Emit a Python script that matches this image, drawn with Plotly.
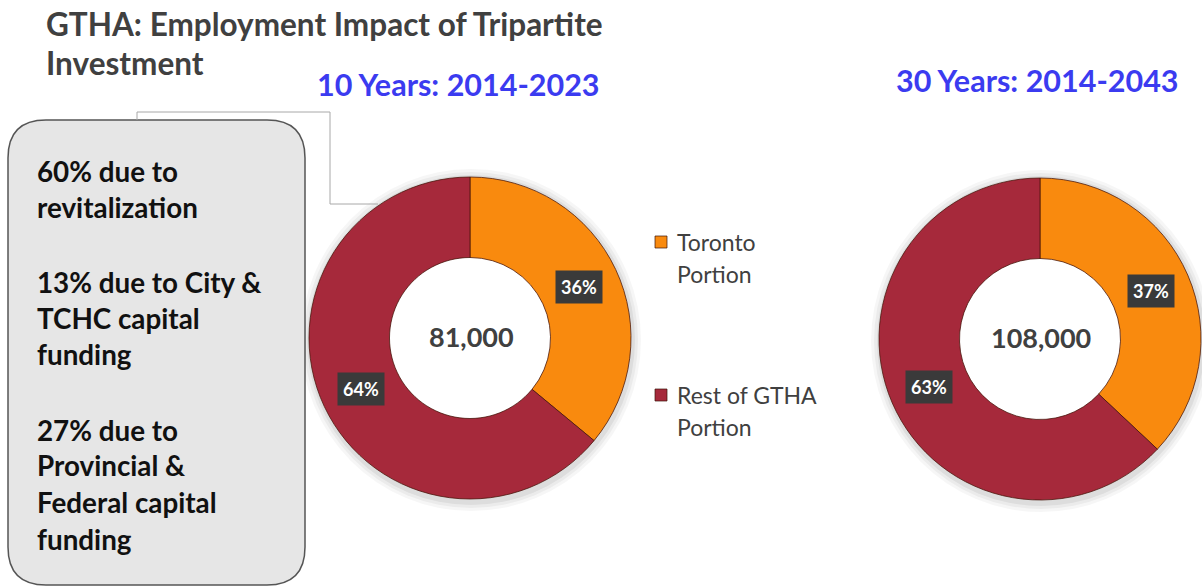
import math
import plotly.graph_objects as go

# ---------------- data ----------------
categories = ["Toronto Portion", "Rest of GTHA Portion"]
legend_lines = [["Toronto", "Portion"], ["Rest of GTHA", "Portion"]]
share_10yr = [36, 64]
share_30yr = [37, 63]
total_10yr = 81000
total_30yr = 108000
period_titles = ["10 Years: 2014-2023", "30 Years: 2014-2043"]
title_lines = ["GTHA: Employment Impact of Tripartite", "Investment"]
box_lines = ["60% due to", "revitalization", "",
             "13% due to City &", "TCHC capital", "funding", "",
             "27% due to", "Provincial &", "Federal capital", "funding"]

# ---------------- style ----------------
W, H = 1202, 586
ORANGE = "#F98A0E"
RED = "#A6293B"
GRAY_TXT = "#404040"
BLUE = "#3B3BF0"
FONT = "Lato"


def px(x):
    return x / W


def py(y):
    return 1 - y / H


fig = go.Figure()
shapes = []
annotations = []

donuts = [
    dict(values=share_10yr, total=total_10yr, cx=470, cy=338, r=161),
    dict(values=share_30yr, total=total_30yr, cx=1040, cy=339, r=161),
]

for d in donuts:
    cx, cy, r = d["cx"], d["cy"], d["r"]
    # soft shadow
    for grow, op in [(9, 0.035), (6, 0.045), (3, 0.06)]:
        shapes.append(dict(type="circle", xref="paper", yref="paper", layer="below",
                           x0=px(cx - r - grow + 1), x1=px(cx + r + grow + 1),
                           y0=py(cy + r + grow + 3), y1=py(cy - r - grow + 1),
                           fillcolor=f"rgba(0,0,0,{op})", line=dict(width=0)))
    # keep the hole white
    hr = 0.5 * r
    shapes.append(dict(type="circle", xref="paper", yref="paper", layer="below",
                       x0=px(cx - hr), x1=px(cx + hr), y0=py(cy + hr), y1=py(cy - hr),
                       fillcolor="white", line=dict(width=0)))
    fig.add_trace(go.Pie(
        labels=categories, values=d["values"], hole=0.5, sort=False,
        direction="clockwise", rotation=0,
        marker=dict(colors=[ORANGE, RED], line=dict(color="rgba(70,20,10,0.75)", width=1)),
        textinfo="none", hoverinfo="label+percent", showlegend=False,
        domain=dict(x=[px(cx - r), px(cx + r)], y=[py(cy + r), py(cy - r)]),
    ))
    # center total
    annotations.append(dict(x=px(cx + 1), y=py(cy - 2), xref="paper", yref="paper",
                            xanchor="center", yanchor="middle",
                            text=f"{d['total']:,}", showarrow=False,
                            font=dict(family=FONT, size=27, color=GRAY_TXT, weight="bold")))
    # percent labels
    tot = sum(d["values"])
    cum = 0
    rm = 0.75 * r
    for v in d["values"]:
        mid = (cum + v / 2) / tot
        th = 2 * math.pi * mid
        x = cx + rm * math.sin(th)
        y = cy - rm * math.cos(th)
        cum += v
        annotations.append(dict(x=px(x), y=py(y), xref="paper", yref="paper",
                                xanchor="center", yanchor="middle",
                                text=f"{round(100 * v / tot)}%", showarrow=False,
                                bgcolor="#3A3A3A", borderpad=5,
                                font=dict(family=FONT, size=18, color="white", weight="bold")))

# title
for line, yc in zip(title_lines, [24, 63]):
    annotations.append(dict(x=px(44), y=py(yc), xref="paper", yref="paper",
                            xanchor="left", yanchor="middle", text=line, showarrow=False,
                            font=dict(family=FONT, size=31.5, color=GRAY_TXT, weight="bold")))

# period titles
for t, (xl, yc) in zip(period_titles, [(315, 84), (894, 80)]):
    annotations.append(dict(x=px(xl), y=py(yc), xref="paper", yref="paper",
                            xanchor="left", yanchor="middle", text=t, showarrow=False,
                            font=dict(family=FONT, size=30.5, color=BLUE, weight="bold")))

# rounded box
bx0, bx1, by0, by1, rr = 8, 305, 120, 585, 38
path = (f"M {px(bx0 + rr)},{py(by0)} L {px(bx1 - rr)},{py(by0)} "
        f"Q {px(bx1)},{py(by0)} {px(bx1)},{py(by0 + rr)} "
        f"L {px(bx1)},{py(by1 - rr)} Q {px(bx1)},{py(by1)} {px(bx1 - rr)},{py(by1)} "
        f"L {px(bx0 + rr)},{py(by1)} Q {px(bx0)},{py(by1)} {px(bx0)},{py(by1 - rr)} "
        f"L {px(bx0)},{py(by0 + rr)} Q {px(bx0)},{py(by0)} {px(bx0 + rr)},{py(by0)} Z")
shapes.append(dict(type="path", path=path, xref="paper", yref="paper", layer="below",
                   fillcolor="#E6E6E6", line=dict(color="#555555", width=1.5)))

# connector line
conn = [(137, 120), (137, 112), (330, 112), (330, 204), (378, 204)]
cpath = "M " + " L ".join(f"{px(a)},{py(b)}" for a, b in conn)
shapes.append(dict(type="path", path=cpath, xref="paper", yref="paper",
                   line=dict(color="#A8A8A8", width=1)))

# box text
box_y = [171, 208, None, 282, 318, 354, None, 430, 466, 502, 539]
for line, yc in zip(box_lines, box_y):
    if not line:
        continue
    annotations.append(dict(x=px(35), y=py(yc), xref="paper", yref="paper",
                            xanchor="left", yanchor="middle", text=line, showarrow=False,
                            font=dict(family=FONT, size=27.8, color="#111111", weight="bold")))

# manual legend
for lines, color, ytop in zip(legend_lines, [ORANGE, RED], [242, 395]):
    shapes.append(dict(type="rect", xref="paper", yref="paper",
                       x0=px(655), x1=px(667), y0=py(ytop + 6), y1=py(ytop - 6),
                       fillcolor=color, line=dict(color="rgba(60,20,10,0.7)", width=1)))
    for j, ln in enumerate(lines):
        annotations.append(dict(x=px(675), y=py(ytop + 32 * j), xref="paper", yref="paper",
                                xanchor="left", yanchor="middle", text=ln, showarrow=False,
                                font=dict(family=FONT, size=23, color=GRAY_TXT)))

fig.update_layout(
    width=W, height=H, margin=dict(l=0, r=0, t=0, b=0),
    paper_bgcolor="white", plot_bgcolor="white",
    shapes=shapes, annotations=annotations, showlegend=False,
)

fig.write_html("out.html", config={"displayModeBar": False},
               post_script="document.body.style.margin='0px';")
